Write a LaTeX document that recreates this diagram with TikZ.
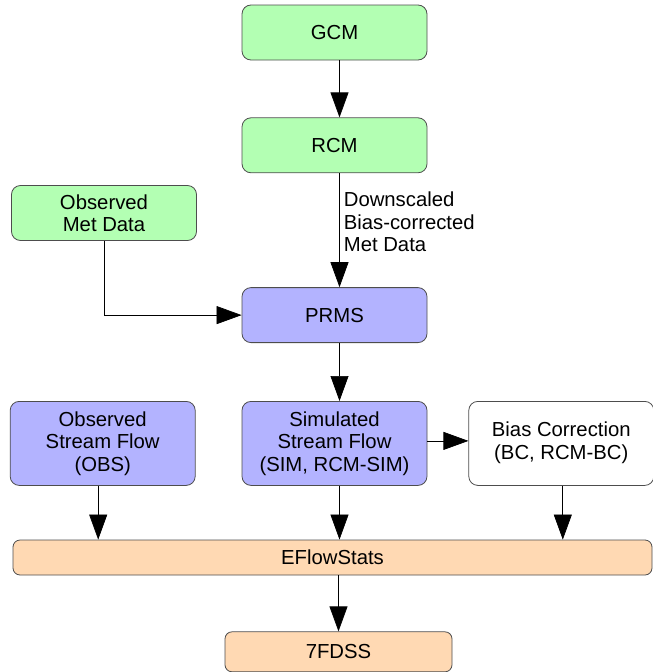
\documentclass[tikz,border=0pt]{standalone}
\usepackage{fontspec}
\setmainfont{Liberation Sans}
\usepackage{xcolor}
\definecolor{modelGreen}{HTML}{B3FFB3}
\definecolor{modelBlue}{HTML}{B3B3FF}
\definecolor{statsOrange}{HTML}{FFD9B3}
\definecolor{edgeGray}{HTML}{4D4D4D}
\usepackage{tikz}
\usetikzlibrary{arrows.meta, positioning}

\begin{document}
\begin{tikzpicture}[
		x=1pt, y=-1pt,
		font=\fontsize{20.3}{22.5}\selectfont,
		box/.style={
			draw=edgeGray,
			line width=0.8pt,
			rounded corners=9pt,
			minimum width=185pt,
			minimum height=55pt,
			inner sep=0pt,
			align=center
		},
		tallbox/.style={box, minimum height=84pt},
		statbox/.style={
			draw=edgeGray,
			line width=0.8pt,
			rounded corners=7pt,
			fill=statsOrange,
			inner sep=0pt,
			align=center
		},
		arrow/.style={-{Triangle[length=25pt, width=18pt]}, line width=0.7pt, draw=black}
		]
		
		\useasboundingbox (0,0) rectangle (653,672);
		
		\node[box, fill=modelGreen] (gcm) at (334.5,32.5) {GCM};
		\node[box, fill=modelGreen, below=57pt of gcm] (rcm) {RCM};
		\node[box, fill=modelBlue, below=114pt of rcm] (prms) {PRMS};
		\node[box, fill=modelGreen] (obsmet) at (104,213) {Observed\\Met Data};
		\node[tallbox, fill=modelBlue, below=58pt of prms] (sim) {Simulated\\Stream Flow\\(SIM, RCM-SIM)};
		\node[tallbox, fill=modelBlue, left=46pt of sim] (obs) {Observed\\Stream Flow\\(OBS)};
		\node[tallbox, fill=white, right=41pt of sim] (bc) {\raisebox{4pt}{\begin{tabular}{@{}c@{}}Bias Correction\\(BC, RCM-BC)\end{tabular}}};
		\node[statbox, minimum width=639pt, minimum height=35pt] (eflow) at (332.5,557.5) {EFlowStats};
		\node[statbox, minimum width=227pt, minimum height=40pt, below=56pt of eflow.south, anchor=north, xshift=6pt] (fdss) {7FDSS};
		
		\draw[arrow] ([xshift=5pt]gcm.south) -- ([xshift=5pt]rcm.north);
		\draw[arrow] ([xshift=5pt]rcm.south) -- node[right, align=left, inner sep=4pt, pos=0.43] (metlabel) {Downscaled\\Bias-corrected\\Met Data} ([xshift=5pt]prms.north);
		\draw[arrow] (obsmet.south) |- (prms.west);
		\draw[arrow] ([xshift=5pt]prms.south) -- ([xshift=5pt]sim.north);
		\draw[arrow] ([yshift=2.5pt]sim.east) -- ([yshift=2.5pt]bc.west);
		\draw[arrow] ([xshift=-4.5pt]obs.south) -- ([xshift=-4.5pt]obs.south |- eflow.north);
		\draw[arrow] ([xshift=5pt]sim.south) -- ([xshift=5pt]sim.south |- eflow.north);
		\draw[arrow] ([xshift=1.5pt]bc.south) -- ([xshift=1.5pt]bc.south |- eflow.north);
		\draw[arrow] (fdss.north |- eflow.south) -- (fdss.north);
		
	\end{tikzpicture}
\end{document}
